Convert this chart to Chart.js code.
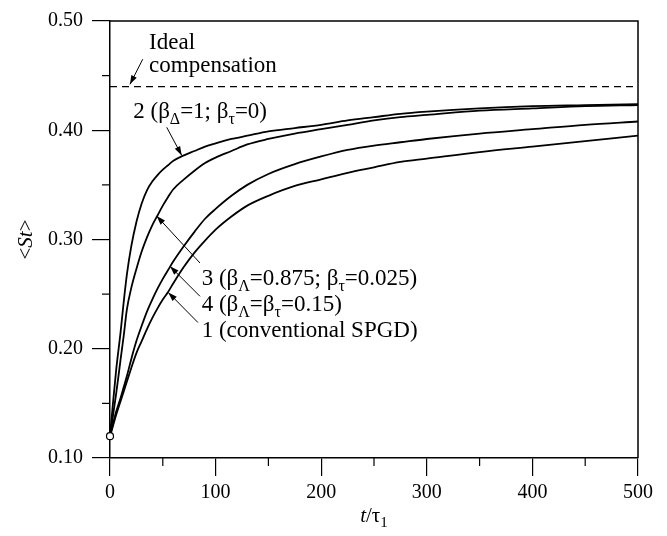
<!DOCTYPE html>
<html lang="en">
<head>
<meta charset="UTF-8">
<title>St vs t/tau</title>
<script src="https://cdn.jsdelivr.net/npm/chart.js@4.4.0/dist/chart.umd.min.js"></script>
<style>
  html, body { margin: 0; padding: 0; background: #fff; }
  #wrap { width: 667px; height: 536px; }
</style>
</head>
<body>
<div id="wrap"><canvas id="chart" width="667" height="536"></canvas></div>
<script>
// time axis (t / tau_1), shared by all four curves
const tValues = [0, 3, 6, 10, 13, 16, 20, 25, 30, 35, 40, 45, 50, 55, 60, 70, 80, 90, 100,
  115, 130, 150, 175, 200, 225, 250, 275, 300, 350, 400, 450, 500];

// 1 (conventional SPGD)
const curve1 = [0.120, 0.130, 0.140, 0.152, 0.161, 0.170, 0.182, 0.196, 0.207, 0.218, 0.228, 0.237, 0.245, 0.252, 0.260, 0.275, 0.288, 0.299, 0.309,
  0.321, 0.331, 0.340, 0.349, 0.355, 0.361, 0.366, 0.371, 0.374, 0.380, 0.385, 0.390, 0.395];
// 2 (bD = 1; bt = 0)
const curve2 = [0.120, 0.152, 0.182, 0.215, 0.243, 0.268, 0.293, 0.316, 0.333, 0.345, 0.353, 0.359, 0.364, 0.368, 0.372, 0.377, 0.381, 0.385, 0.388,
  0.392, 0.395, 0.399, 0.402, 0.405, 0.409, 0.412, 0.415, 0.417, 0.420, 0.422, 0.423, 0.424];
// 3 (bL = 0.875; bt = 0.025)
const curve3 = [0.120, 0.140, 0.160, 0.190, 0.212, 0.236, 0.255, 0.273, 0.289, 0.302, 0.313, 0.322, 0.331, 0.339, 0.346, 0.355, 0.363, 0.370, 0.375,
  0.381, 0.387, 0.392, 0.397, 0.401, 0.405, 0.409, 0.412, 0.414, 0.418, 0.420, 0.422, 0.423];
// 4 (bL = bt = 0.15)
const curve4 = [0.120, 0.132, 0.143, 0.155, 0.165, 0.175, 0.190, 0.207, 0.221, 0.234, 0.245, 0.255, 0.264, 0.272, 0.280, 0.294, 0.307, 0.319, 0.328,
  0.340, 0.350, 0.360, 0.369, 0.376, 0.382, 0.386, 0.389, 0.392, 0.397, 0.401, 0.405, 0.408];

// ideal compensation level
const idealT = [0, 500];
const idealSt = [0.44, 0.44];

// common starting point
const startT = [0];
const startSt = [0.12];

// unlabelled minor ticks
const xMinorTicks = [50, 150, 250, 350, 450];
const yMinorTicks = [0.15, 0.25, 0.35, 0.45];

const SERIF = '"Liberation Serif", "Times New Roman", serif';

function pts(xs, ys) {
  return xs.map((x, i) => ({ x: x, y: ys[i] }));
}

function curveSet(ys) {
  return {
    data: pts(tValues, ys),
    borderColor: '#000',
    borderWidth: 1.8,
    pointRadius: 0,
    cubicInterpolationMode: 'monotone',
    fill: false
  };
}

// draw text made of pieces: [text, style] with style '' normal, 'i' italic, 's' subscript
function drawRich(ctx, x, y, parts, size, align) {
  const fontFor = st => (st === 'i' ? 'italic ' : '') + (st === 's' ? Math.round(size * 0.7) : size) + 'px ' + SERIF;
  let total = 0;
  parts.forEach(p => { ctx.font = fontFor(p[1]); total += ctx.measureText(p[0]).width; });
  let cx = align === 'center' ? x - total / 2 : x;
  ctx.textBaseline = 'middle';
  ctx.textAlign = 'left';
  parts.forEach(p => {
    ctx.font = fontFor(p[1]);
    ctx.fillText(p[0], cx, p[1] === 's' ? y + size * 0.32 : y);
    cx += ctx.measureText(p[0]).width;
  });
}

function drawArrow(ctx, x1, y1, x2, y2) {
  ctx.beginPath();
  ctx.moveTo(x1, y1);
  ctx.lineTo(x2, y2);
  ctx.stroke();
  const a = Math.atan2(y2 - y1, x2 - x1);
  const len = 9, hw = 3;
  ctx.beginPath();
  ctx.moveTo(x2, y2);
  ctx.lineTo(x2 - len * Math.cos(a) + hw * Math.sin(a), y2 - len * Math.sin(a) - hw * Math.cos(a));
  ctx.lineTo(x2 - len * Math.cos(a) - hw * Math.sin(a), y2 - len * Math.sin(a) + hw * Math.cos(a));
  ctx.closePath();
  ctx.fill();
}

const decor = {
  id: 'decor',
  afterDraw(chart) {
    const ctx = chart.ctx;
    const a = chart.chartArea;
    const xs = chart.scales.x, ys = chart.scales.y;
    const px = v => xs.getPixelForValue(v);
    const py = v => ys.getPixelForValue(v);
    ctx.save();
    ctx.strokeStyle = '#000';
    ctx.fillStyle = '#000';

    // frame top and right
    ctx.lineWidth = 1.5;
    ctx.beginPath();
    ctx.moveTo(a.left, a.top);
    ctx.lineTo(a.right, a.top);
    ctx.lineTo(a.right, a.bottom);
    ctx.stroke();

    // minor ticks
    ctx.lineWidth = 1.2;
    yMinorTicks.forEach(v => {
      ctx.beginPath();
      ctx.moveTo(a.left - 8, py(v));
      ctx.lineTo(a.left, py(v));
      ctx.stroke();
    });
    xMinorTicks.forEach(v => {
      ctx.beginPath();
      ctx.moveTo(px(v), a.bottom);
      ctx.lineTo(px(v), a.bottom + 8);
      ctx.stroke();
    });

    // axis titles
    ctx.save();
    ctx.translate(26, (a.top + a.bottom) / 2);
    ctx.rotate(-Math.PI / 2);
    drawRich(ctx, 0, 0, [['<', ''], ['St', 'i'], ['>', '']], 21, 'center');
    ctx.restore();
    drawRich(ctx, (a.left + a.right) / 2, 516, [['t', 'i'], ['/τ', ''], ['1', 's']], 21, 'center');

    // annotations
    const fs = 23;
    drawRich(ctx, px(37), py(0.480), [['Ideal', '']], fs, 'left');
    drawRich(ctx, px(37), py(0.459), [['compensation', '']], fs, 'left');
    drawRich(ctx, px(22), py(0.4164), [['2 (β', ''], ['Δ', 's'], ['=1; β', ''], ['τ', 's'], ['=0)', '']], fs, 'left');
    drawRich(ctx, px(86.8), py(0.2636), [['3 (β', ''], ['Λ', 's'], ['=0.875; β', ''], ['τ', 's'], ['=0.025)', '']], fs, 'left');
    drawRich(ctx, px(86.8), py(0.240), [['4 (β', ''], ['Λ', 's'], ['=β', ''], ['τ', 's'], ['=0.15)', '']], fs, 'left');
    drawRich(ctx, px(86.8), py(0.2164), [['1 (conventional SPGD)', '']], fs, 'left');

    ctx.lineWidth = 1;
    drawArrow(ctx, px(31), py(0.465), px(18.9), py(0.442));
    drawArrow(ctx, px(53.7), py(0.4027), px(67.9), py(0.377));
    drawArrow(ctx, px(85.2), py(0.2785), px(44.2), py(0.3215));
    drawArrow(ctx, px(85.2), py(0.248), px(56.8), py(0.2755));
    drawArrow(ctx, px(83.3), py(0.224), px(55.2), py(0.2515));
    ctx.restore();
  }
};

new Chart(document.getElementById('chart'), {
  type: 'line',
  data: {
    datasets: [
      {
        data: pts(startT, startSt),
        showLine: false,
        clip: false,
        pointRadius: 3.5,
        pointBackgroundColor: '#fff',
        pointBorderColor: '#000',
        pointBorderWidth: 1.2
      },
      curveSet(curve2),
      curveSet(curve3),
      curveSet(curve4),
      curveSet(curve1),
      {
        data: pts(idealT, idealSt),
        borderColor: '#000',
        borderWidth: 1.2,
        borderDash: [7, 5],
        pointRadius: 0
      }
    ]
  },
  options: {
    responsive: false,
    animation: false,
    devicePixelRatio: 1,
    layout: { padding: { top: 18, right: 29, left: 0, bottom: 0 } },
    plugins: { legend: { display: false }, tooltip: { enabled: false } },
    scales: {
      x: {
        type: 'linear',
        min: 0,
        max: 500,
        afterFit: s => { s.height = 78; },
        ticks: {
          stepSize: 100,
          autoSkip: false,
          maxRotation: 0,
          padding: 5,
          color: '#000',
          font: { family: SERIF, size: 20 }
        },
        grid: { drawOnChartArea: false, tickLength: 18, color: '#000', lineWidth: 1.2 },
        border: { color: '#000', width: 1.5 }
      },
      y: {
        min: 0.1,
        max: 0.5,
        afterFit: s => { s.width = 110; },
        ticks: {
          stepSize: 0.1,
          padding: 9,
          color: '#000',
          font: { family: SERIF, size: 20 },
          callback: v => v.toFixed(2)
        },
        grid: { drawOnChartArea: false, tickLength: 18, color: '#000', lineWidth: 1.2 },
        border: { color: '#000', width: 1.5 }
      }
    }
  },
  plugins: [decor]
});
</script>
</body>
</html>
